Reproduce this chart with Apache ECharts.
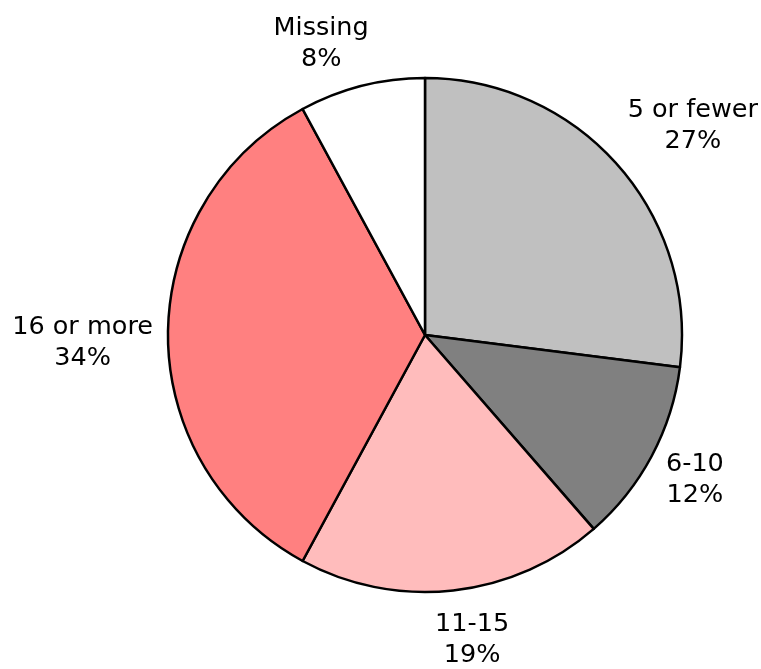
<!DOCTYPE html>
<html>
<head>
<meta charset="utf-8">
<script src="https://cdn.jsdelivr.net/npm/echarts@6/dist/echarts.min.js"></script>
<style>
html,body{margin:0;padding:0;background:#fff;}
#chart{width:761px;height:669px;}
</style>
</head>
<body>
<div id="chart"></div>
<script>
const categories = ['5 or fewer', '6-10', '11-15', '16 or more', 'Missing'];
const values = [27.0, 11.6, 19.3, 34.2, 7.9];

const fills = ['#c0c0c0', '#808080', '#ffbcbc', '#ff8080', '#ffffff'];

const CX = 425, CY = 335, R = 257;
// small hand nudges for label placement (text only)
const labelNudge = [[15, 14], [-2, 0], [14, 5], [-3, 8], [-28, 8]];
const total = values.reduce((a, b) => a + b, 0);
function midAngle(i) {
  let before = 0;
  for (let k = 0; k < i; k++) before += values[k];
  const frac = (before + values[i] / 2) / total;
  return -Math.PI / 2 + frac * Math.PI * 2;
}

const chart = echarts.init(document.getElementById('chart'), null, {renderer: 'canvas'});
chart.setOption({
  animation: false,
  backgroundColor: '#ffffff',
  series: [{
    type: 'pie',
    center: [CX, CY],
    radius: R,
    startAngle: 90,
    clockwise: true,
    avoidLabelOverlap: false,
    itemStyle: {borderColor: '#000', borderWidth: 2.5},
    label: {
      show: true,
      position: 'outside',
      formatter: p => p.name + '\n' + Math.round(p.percent) + '%',
      fontFamily: 'DejaVu Sans',
      fontSize: 25.5,
      lineHeight: 31,
      color: '#000',
      align: 'center'
    },
    labelLine: {show: false},
    labelLayout: function (params) {
      const i = params.dataIndex;
      const a = midAngle(i);
      const dx = Math.cos(a), dy = Math.sin(a);
      const w = params.labelRect.width, h = 58;
      const support = Math.abs(dx) * w / 2 + Math.abs(dy) * h / 2;
      const d = R + 12 + support;
      return {
        x: CX + dx * d + labelNudge[i][0],
        y: CY + dy * d + labelNudge[i][1],
        align: 'center', verticalAlign: 'middle'
      };
    },
    emphasis: {disabled: true},
    data: categories.map((n, i) => ({name: n, value: values[i], itemStyle: {color: fills[i]}}))
  }]
});
</script>
</body>
</html>
